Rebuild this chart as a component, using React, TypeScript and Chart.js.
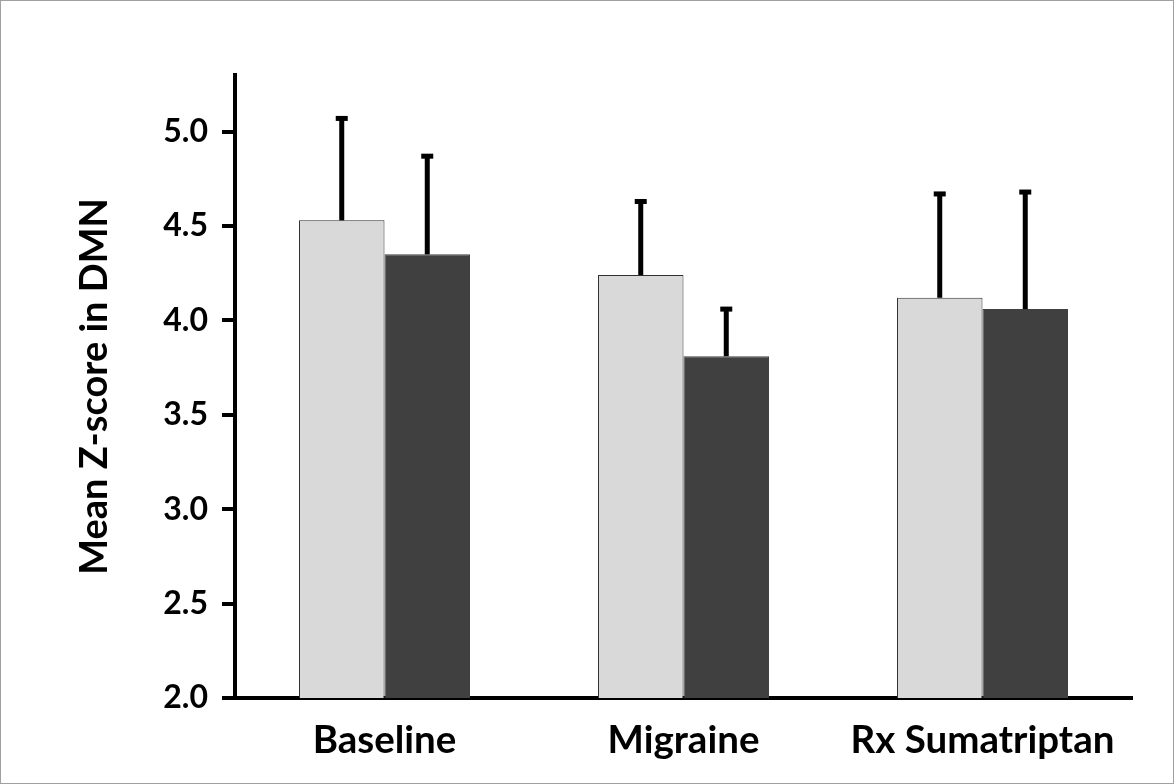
import { useEffect, useRef } from 'react';
import { Chart, registerables } from 'chart.js';

Chart.register(...registerables);

const categories = ['Baseline', 'Migraine', 'Rx Sumatriptan'];
const seriesLight = [4.53, 4.24, 4.12];
const seriesDark = [4.35, 3.81, 4.06];
const errLight = [0.54, 0.39, 0.55];
const errDark = [0.52, 0.25, 0.62];
const yTicks = [2.0, 2.5, 3.0, 3.5, 4.0, 4.5, 5.0];
const yTitle = 'Mean Z-score in DMN';

const FONT = 'Lato, "Open Sans", sans-serif';

const errorBarPlugin = {
  id: 'errorBars',
  afterDatasetsDraw(chart: any) {
    const ctx = chart.ctx;
    const yScale = chart.scales.y;
    const errs = [errLight, errDark];
    chart.data.datasets.forEach((ds: any, i: number) => {
      const meta = chart.getDatasetMeta(i);
      meta.data.forEach((bar: any, j: number) => {
        const v = ds.data[j];
        const top = yScale.getPixelForValue(v + errs[i][j]);
        const x = bar.x;
        ctx.save();
        ctx.fillStyle = '#000';
        ctx.fillRect(x - 2.5, top, 5, bar.y - top);
        ctx.fillRect(x - 6, top - 2.5, 12, 5);
        ctx.restore();
      });
    });
  },
};

export default function App() {
  const ref = useRef<HTMLCanvasElement | null>(null);
  useEffect(() => {
    if (!ref.current) return;
    const chart = new Chart(ref.current, {
      type: 'bar',
      data: {
        labels: categories,
        datasets: [
          {
            data: seriesLight,
            backgroundColor: '#d9d9d9',
            borderColor: '#303030',
            borderWidth: 1,
            barPercentage: 1,
            categoryPercentage: 0.572,
          },
          {
            data: seriesDark,
            backgroundColor: '#404040',
            borderColor: '#404040',
            borderWidth: 1,
            barPercentage: 1,
            categoryPercentage: 0.572,
          },
        ],
      },
      options: {
        responsive: false,
        maintainAspectRatio: false,
        animation: false,
        devicePixelRatio: 1,
        layout: { padding: { left: 0, top: 75, right: 42, bottom: 0 } },
        plugins: { legend: { display: false }, tooltip: { enabled: false } },
        scales: {
          x: {
            grid: { display: false },
            border: { display: true, color: '#000', width: 4 },
            ticks: {
              color: '#000',
              padding: 11,
              font: { family: FONT, size: 38.5, weight: 'bold' },
            },
            afterFit(scale: any) {
              scale.height = 86;
            },
          },
          y: {
            min: 2,
            max: 5.3,
            grid: {
              drawOnChartArea: false,
              drawTicks: true,
              tickLength: 13,
              color: '#000',
              lineWidth: 4,
            },
            border: { display: true, color: '#000', width: 4 },
            ticks: {
              color: '#000',
              padding: 14,
              font: { family: FONT, size: 32, weight: 'bold' },
              callback: (v: any) => Number(v).toFixed(1),
            },
            afterBuildTicks(scale: any) {
              scale.ticks = yTicks.map((v) => ({ value: v }));
            },
            title: {
              display: true,
              text: yTitle,
              color: '#000',
              font: { family: FONT, size: 38, weight: 'bold' },
              padding: { top: 72, bottom: 0 },
            },
            afterFit(scale: any) {
              scale.width = 235;
            },
          },
        },
      },
      plugins: [errorBarPlugin],
    });
    return () => chart.destroy();
  }, []);
  return (
    <div style={{ position: 'absolute', left: 0, top: 0, width: 1174, height: 784, background: '#fff' }}>
      <canvas ref={ref} width={1174} height={784} style={{ position: 'absolute', left: 0, top: 0 }} />
      <div
        style={{
          position: 'absolute',
          left: 0,
          top: 0,
          width: 1174,
          height: 784,
          border: '1px solid #a0a0a0',
          boxSizing: 'border-box',
          pointerEvents: 'none',
        }}
      />
    </div>
  );
}
